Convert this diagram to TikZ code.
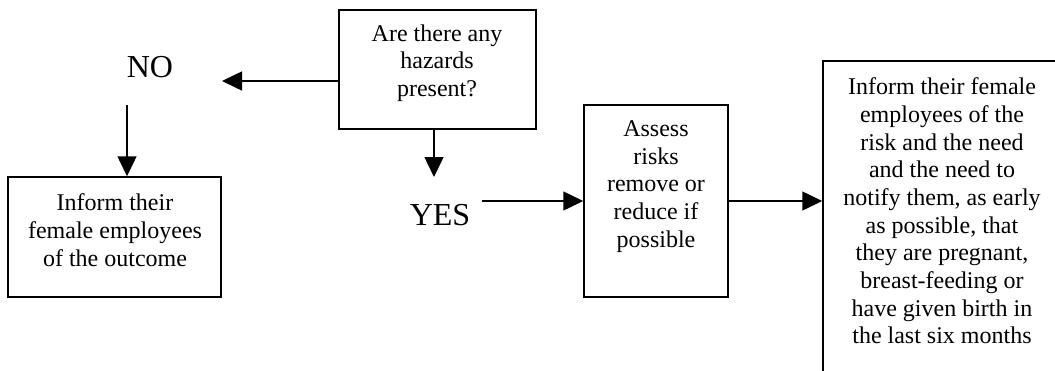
\documentclass[tikz,border=0pt]{standalone}
\usepackage{fontspec}
\setmainfont{Liberation Serif}
\usetikzlibrary{arrows.meta,positioning}

\begin{document}
\begin{tikzpicture}[x=0.5pt, y=-0.5pt, >={Triangle[length=10pt,width=9.5pt]}, line width=0.75pt,
  box/.style={draw, inner sep=0pt},
  txt/.style={align=center, font=\fontsize{12}{13.85}\selectfont, inner sep=0pt},
  big/.style={font=\fontsize{16}{19}\selectfont, inner sep=0pt}]
  \useasboundingbox (0,0) rectangle (1055,370);
  \clip (0,0) rectangle (1055,370);

  % boxes
  \node[box, minimum width=98.5pt, minimum height=59.5pt] (haz) at (437.5,69.5) {};
  \node[box, minimum width=106.5pt, minimum height=60pt] (outcome) at (114.5,237) {};
  \node[box, minimum width=72pt, minimum height=96pt] (assess) at (656,201) {};
  \node[box, minimum width=119pt, minimum height=169.5pt] (inform) at (942,230.5) {};

  % texts
  \node[txt] (hazt) at (437,63) {Are there any\\hazards\\present?};
  \node[txt] (outcomet) at (115,230) {Inform their\\female employees\\of the outcome};
  \node[txt] (assesst) at (656,186.5) {Assess\\risks\\remove or\\reduce if\\possible};
  \node[txt] (informt) at (942,211) {Inform their female\\employees of the\\risk and the need\\and the need to\\notify them, as early\\as possible, that\\they are pregnant,\\breast-feeding or\\have given birth in\\the last six months};
  \node[big] (no) at (150,67) {NO};
  \node[big] (yes) at (440,215) {YES};

  % arrows
  \coordinate (noin) at (222,81);
  \coordinate (nodown) at (127,105);
  \coordinate (yesin) at (434,177);
  \coordinate (yesout) at (482,201);
  \draw[->] (haz.west |- noin) -- (noin);
  \draw[->] (nodown) -- (nodown |- outcome.north);
  \draw[->] (yesin |- haz.south) -- (yesin);
  \draw[->] (yesout) -- (assess.west);
  \draw[->] (assess.east) -- (assess.east -| inform.west);
\end{tikzpicture}
\end{document}
